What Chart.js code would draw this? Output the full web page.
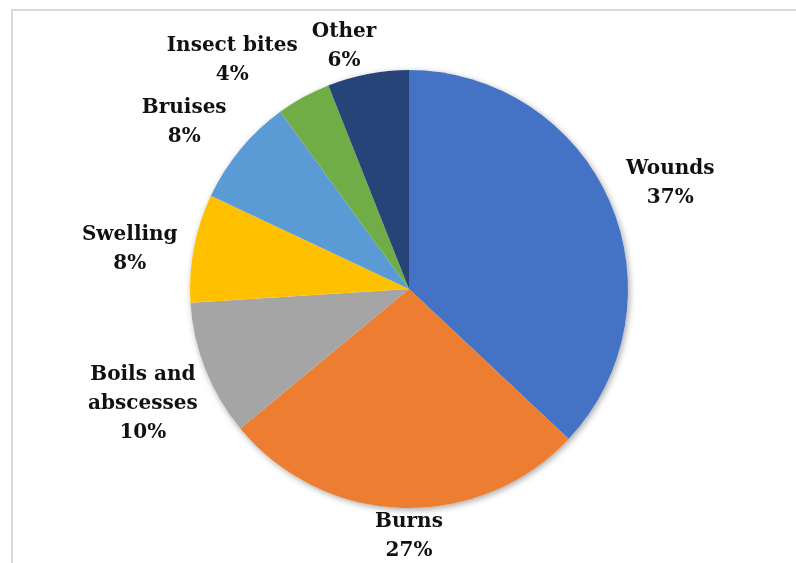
<!DOCTYPE html>
<html>
<head>
<meta charset="utf-8">
<script src="https://cdn.jsdelivr.net/npm/chart.js@4"></script>
<style>
    html, body { margin: 0; padding: 0; background: #ffffff; }
    #wrap { position: relative; width: 796px; height: 563px; }
</style>
</head>
<body>
<div id="wrap"><canvas id="injuryChart" width="796" height="563"></canvas></div>
<script>
// Injury types treated
const categories = ['Wounds', 'Burns', 'Boils and abscesses', 'Swelling', 'Bruises', 'Insect bites', 'Other'];
const shares = [37, 27, 10, 8, 8, 4, 6];
const sliceColors = ['#4472C4', '#ED7D31', '#A5A5A5', '#FFC000', '#5B9BD5', '#70AD47', '#264478'];

// Label lines, wrapped like the original layout
const labelLines = [['Wounds'], ['Burns'], ['Boils and', 'abscesses'], ['Swelling'], ['Bruises'], ['Insect bites'], ['Other']];
// Placement tweaks for the outside labels: angle nudge (deg) and distance past the rim (px)
const labelAngleNudge = [1.3, -1.8, -1.8, -2.8, -3, -8.9, -4.2];
const labelDistance = [63, 28, 71, 63, 61, 70, 32];

const labelFont = 'bold 20px "DejaVu Serif"';
const lineHeight = 29;

// Light frame along the top and left edges
const framePlugin = {
    id: 'frame',
    beforeDraw(chart) {
        const ctx = chart.ctx;
        ctx.save();
        ctx.fillStyle = '#ffffff';
        ctx.fillRect(0, 0, chart.width, chart.height);
        ctx.strokeStyle = '#d9d9d9';
        ctx.lineWidth = 2;
        ctx.beginPath();
        ctx.moveTo(12, chart.height);
        ctx.lineTo(12, 10);
        ctx.lineTo(chart.width, 10);
        ctx.stroke();
        ctx.restore();
    }
};

// Soft drop shadow under the pie
const shadowPlugin = {
    id: 'pieShadow',
    beforeDatasetsDraw(chart) {
        const arc = chart.getDatasetMeta(0).data[0];
        if (!arc) return;
        const ctx = chart.ctx;
        ctx.save();
        ctx.shadowColor = 'rgba(0, 0, 0, 0.35)';
        ctx.shadowBlur = 6;
        ctx.shadowOffsetX = 1.5;
        ctx.shadowOffsetY = 2;
        ctx.fillStyle = '#ffffff';
        ctx.beginPath();
        ctx.arc(arc.x, arc.y, arc.outerRadius, 0, Math.PI * 2);
        ctx.fill();
        ctx.restore();
    }
};

// Name + percentage drawn outside each slice
const outsideLabels = {
    id: 'outsideLabels',
    afterDatasetsDraw(chart) {
        const ctx = chart.ctx;
        const meta = chart.getDatasetMeta(0);
        ctx.save();
        ctx.font = labelFont;
        ctx.fillStyle = '#111111';
        ctx.textAlign = 'center';
        ctx.textBaseline = 'middle';
        meta.data.forEach((arc, i) => {
            const mid = (arc.startAngle + arc.endAngle) / 2 + labelAngleNudge[i] * Math.PI / 180;
            const dist = arc.outerRadius + labelDistance[i];
            const cx = arc.x + Math.cos(mid) * dist;
            const cy = arc.y + Math.sin(mid) * dist;
            const lines = labelLines[i].concat([shares[i] + '%']);
            const top = cy - (lines.length - 1) * lineHeight / 2;
            lines.forEach((line, j) => {
                ctx.fillText(line, cx, top + j * lineHeight);
            });
        });
        ctx.restore();
    }
};

const ctx = document.getElementById('injuryChart').getContext('2d');
new Chart(ctx, {
    type: 'pie',
    data: {
        labels: categories,
        datasets: [{
            data: shares,
            backgroundColor: sliceColors,
            borderWidth: 0
        }]
    },
    options: {
        responsive: false,
        animation: false,
        layout: {
            padding: { top: 70, bottom: 55, left: 190, right: 168 }
        },
        plugins: {
            legend: { display: false },
            tooltip: { enabled: false }
        }
    },
    plugins: [framePlugin, shadowPlugin, outsideLabels]
});
</script>
</body>
</html>
